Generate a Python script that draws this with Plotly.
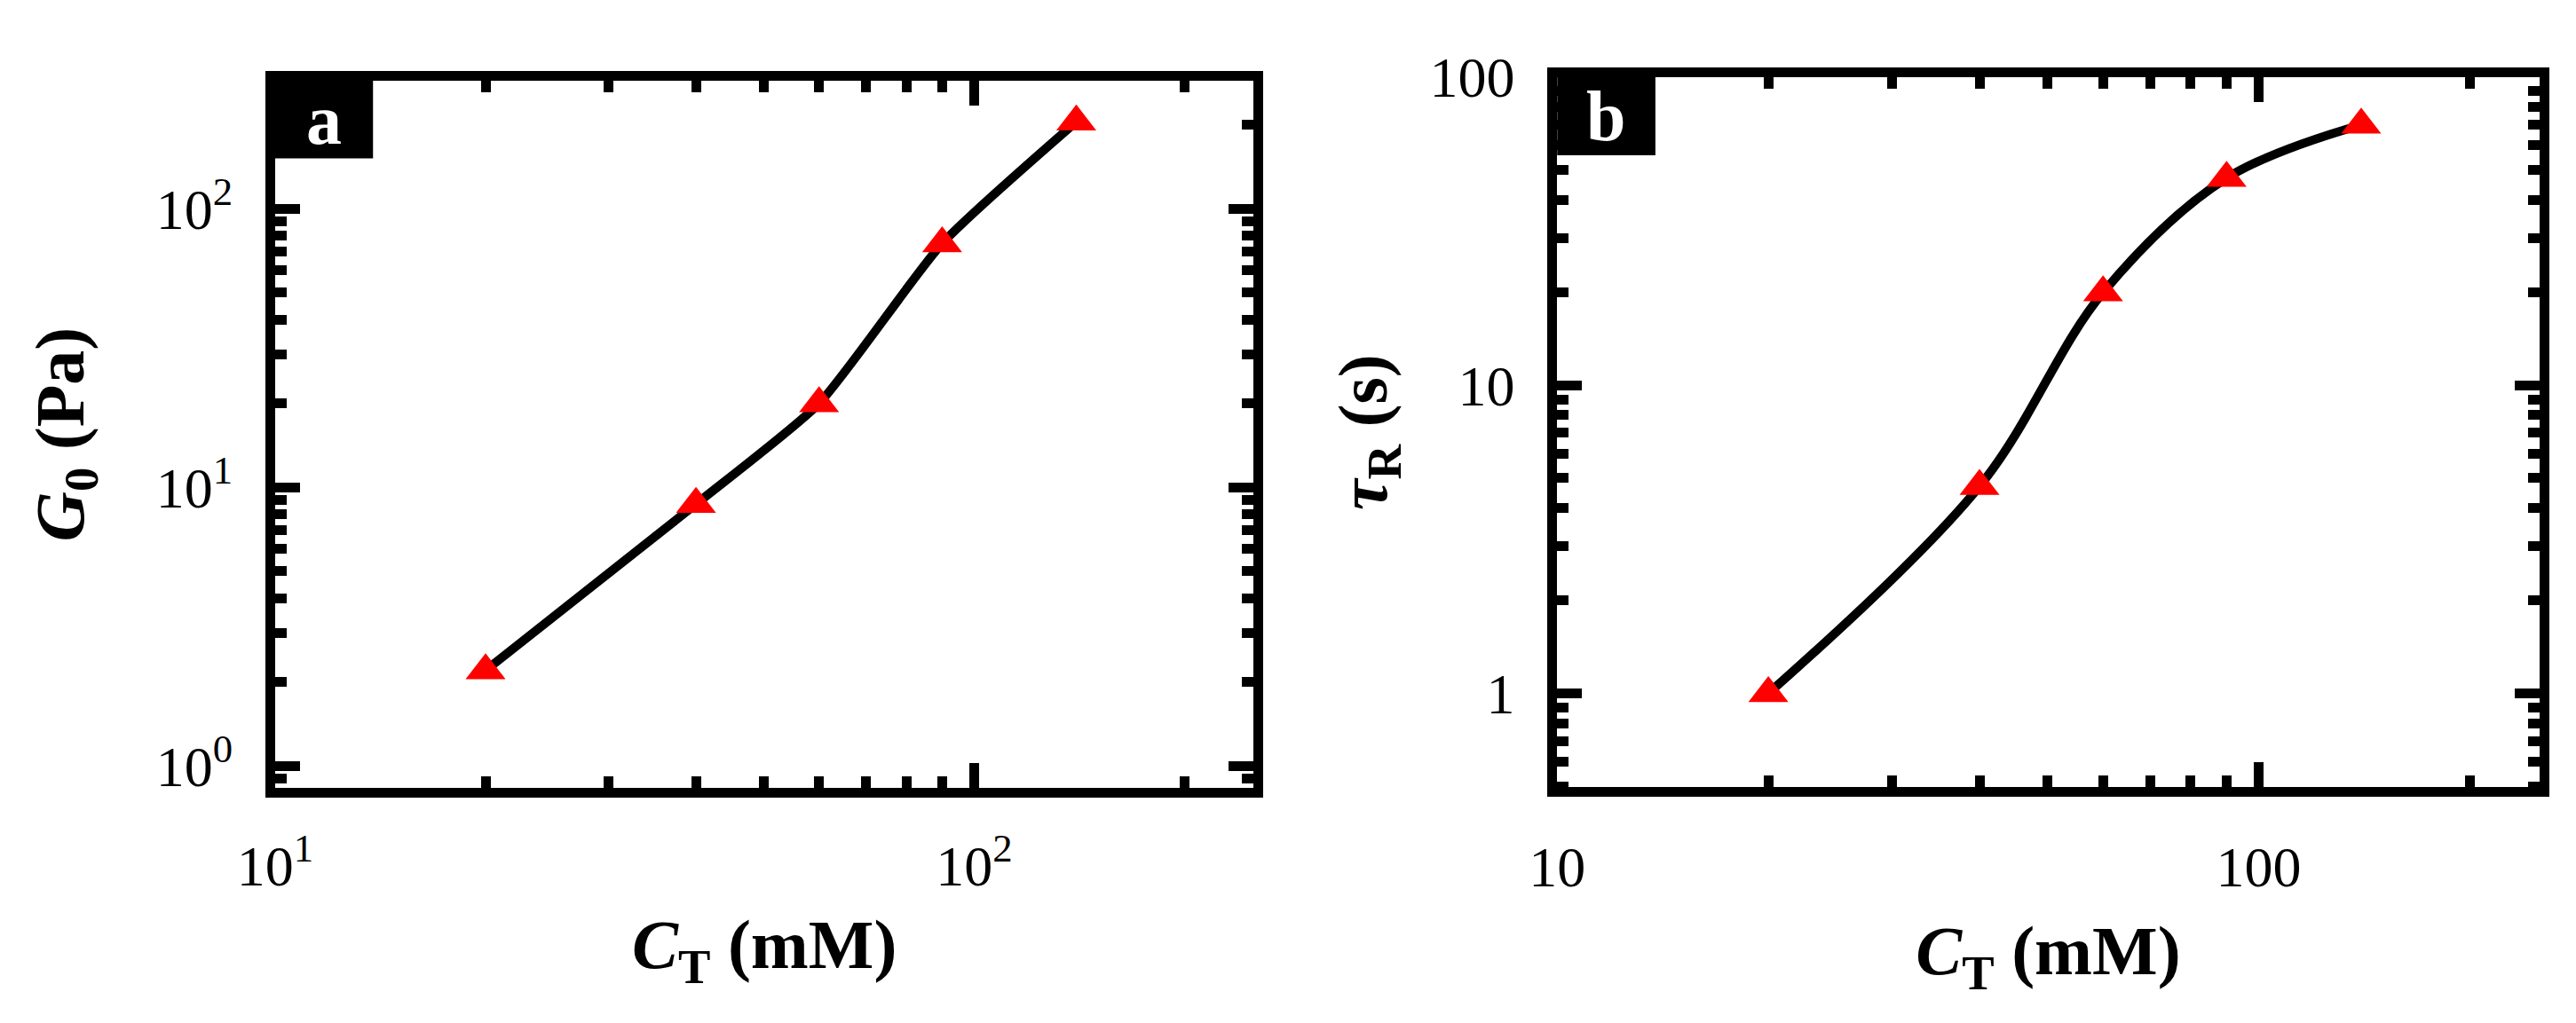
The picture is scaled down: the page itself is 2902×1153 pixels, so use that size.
import plotly.graph_objects as go

# ---- data ----
ct_a = [20, 40, 60, 90, 140]          # C_T (mM)
g0 = [2.2, 8.7, 20, 75, 205]          # G0 (Pa)
ct_b = [20, 40, 60, 90, 140]          # C_T (mM)
tau_r = [1.0, 4.7, 20, 47, 70]        # tau_R (s)

xa_ticks = [10, 100]
xa_text = ["10<sup>1</sup>", "10<sup>2</sup>"]
ya_ticks = [1, 10, 100]
ya_text = ["10<sup>0</sup>", "10<sup>1</sup>", "10<sup>2</sup>"]
xb_ticks = [10, 100]
xb_text = ["10", "100"]
yb_ticks = [1, 10, 100]
yb_text = ["1", "10", "100"]

W, H = 2902, 1153
FONT = "Liberation Serif"


def minors(lo, hi):
    vals = []
    for d in range(-2, 4):
        for k in range(2, 10):
            v = k * 10 ** d
            if lo < v < hi:
                vals.append(v)
    return vals


fig = go.Figure()
for ct, val, xa, ya, sm in [(ct_a, g0, "x", "y", 0.55), (ct_b, tau_r, "x2", "y2", 1.0)]:
    fig.add_trace(go.Scatter(x=ct, y=val, mode="lines", xaxis=xa, yaxis=ya,
                             line=dict(color="black", width=10, shape="spline", smoothing=sm),
                             showlegend=False, hoverinfo="skip"))
    fig.add_trace(go.Scatter(x=ct, y=val, mode="markers", xaxis=xa, yaxis=ya,
                             marker=dict(symbol="triangle-up", size=39, color="#ff0000",
                                         line=dict(width=0)),
                             showlegend=False))


def px_dom(a, b, total):
    return [a / total, b / total]


def ydom(top, bottom):
    return [1 - bottom / H, 1 - top / H]


common = dict(type="log", showline=True, linecolor="black", linewidth=11, mirror="allticks",
              ticks="inside", ticklen=28, tickwidth=11, tickcolor="black",
              showgrid=False, zeroline=False, tickmode="array",
              tickfont=dict(family=FONT, size=64, color="black"))

minor_common = dict(tickmode="array", ticks="inside", ticklen=13, tickwidth=11,
                    tickcolor="black", showgrid=False)

title_font = dict(family=FONT, size=78, color="black")

fig.update_layout(
    width=W, height=H, margin=dict(l=0, r=0, t=0, b=0),
    paper_bgcolor="white", plot_bgcolor="white",
    xaxis=dict(common, domain=px_dom(271, 1390, W), range=[1, 2.4], anchor="y",
               tickvals=xa_ticks, ticktext=xa_text, ticklabelstandoff=22,
               minor=dict(minor_common, tickvals=minors(10, 260)),
               title=dict(text="<b><i>C</i><sub>T</sub> (mM)</b>", font=title_font, standoff=30)),
    yaxis=dict(common, domain=ydom(58, 888), range=[-0.08, 2.46], anchor="x",
               tickvals=ya_ticks, ticktext=ya_text, ticklabelstandoff=24,
               minor=dict(minor_common, tickvals=minors(0.8, 300)),
               title=dict(text="<b><i>G</i><sub>0</sub> (Pa)</b>", font=title_font, standoff=60)),
    xaxis2=dict(common, domain=px_dom(1737, 2860, W), range=[1, 2.4], anchor="y2",
                tickvals=xb_ticks, ticktext=xb_text, ticklabelstandoff=24,
                minor=dict(minor_common, tickvals=minors(10, 260)),
                title=dict(text="<b><i>C</i><sub>T</sub> (mM)</b>", font=title_font, standoff=36)),
    yaxis2=dict(common, domain=ydom(54, 887), range=[-0.305, 2.0], anchor="x2",
                tickvals=yb_ticks, ticktext=yb_text, ticklabelstandoff=24,
                minor=dict(minor_common, tickvals=minors(0.49, 101)),
                title=dict(text="<b><i>τ</i><sub>R</sub> (s)</b>", font=title_font, standoff=27)),
)

# panel label boxes
for xr, yr, lab in [("x domain", "y domain", "a"), ("x2 domain", "y2 domain", "b")]:
    fig.add_shape(type="rect", xref=xr, yref=yr, x0=0, x1=0.1, y0=0.89, y1=1.0,
                  fillcolor="black", line=dict(width=0), layer="above")
    fig.add_annotation(xref=xr, yref=yr, x=0.05, y=0.945, text="<b>%s</b>" % lab,
                       showarrow=False, font=dict(family=FONT, size=80, color="white"),
                       xanchor="center", yanchor="middle")

fig.write_html("out.html")
